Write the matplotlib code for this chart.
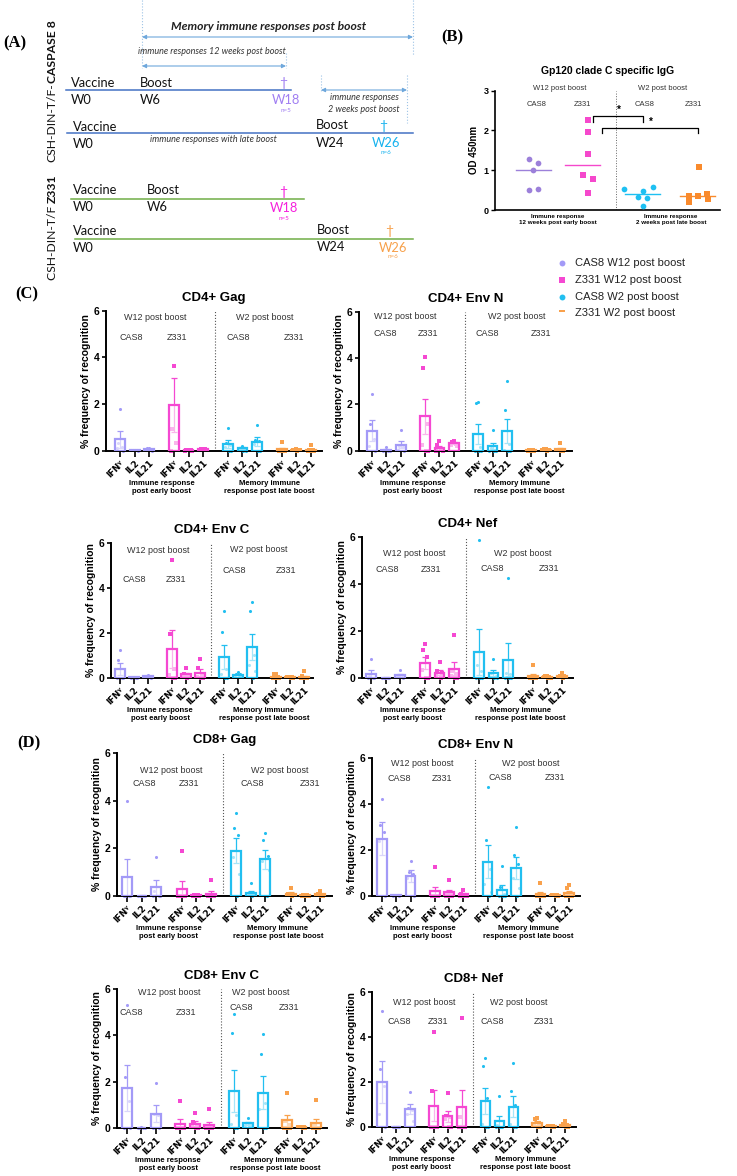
import numpy as np
import matplotlib
matplotlib.use('Agg')
import matplotlib.pyplot as plt

W, H = 737, 1176
plt.rcParams['font.family'] = ['Liberation Sans', 'DejaVu Sans']

# ---------------- data ----------------
cytokines = ['IFN\u1d5e', 'IL2', 'IL21']
group_names = ['CAS8 W12 post boost', 'Z331 W12 post boost', 'CAS8 W2 post boost', 'Z331 W2 post boost']
group_short = ['CAS8', 'Z331', 'CAS8', 'Z331']

# Panel B: Gp120 clade C specific IgG (OD 450nm)
igg_cas8_w12 = [1.28, 1.17, 1.00, 0.50, 0.53]
igg_z331_w12 = [2.26, 1.96, 1.40, 0.88, 0.77, 0.42]
igg_cas8_w2 = [0.53, 0.48, 0.57, 0.32, 0.29, 0.11]
igg_z331_w2 = [1.08, 0.36, 0.35, 0.39, 0.21, 0.27]

# Bar panels: 12 bars = 4 groups x (IFNg, IL2, IL21)
cd4_gag_mean = [0.49, 0.03, 0.07, 1.96, 0.03, 0.06, 0.29, 0.10, 0.39, 0.06, 0.04, 0.05]
cd4_gag_sem = [0.37, 0.01, 0.02, 1.15, 0.01, 0.02, 0.17, 0.04, 0.18, 0.06, 0.01, 0.04]
cd4_gag_pts = [[1.78, 0.35, 0.15, 0.1, 0.0], [0.05, 0.04, 0.02, 0.01, 0.0], [0.12, 0.1, 0.08, 0.04, 0.0],
               [3.61, 0.92, 0.34, 0.0], [0.04, 0.03, 0.02, 0.0, 0.0], [0.08, 0.07, 0.06, 0.05, 0.02],
               [0.98, 0.35, 0.25, 0.15, 0.0, 0.0], [0.21, 0.1, 0.08, 0.05, 0.0, 0.0], [1.09, 0.45, 0.4, 0.3, 0.0, 0.0],
               [0.37, 0.05, 0.0, 0.0, 0.0, 0.0], [0.06, 0.05, 0.04, 0.03, 0.02, 0.0], [0.23, 0.05, 0.02, 0.0, 0.0, 0.0]]

cd4_envn_mean = [0.86, 0.04, 0.26, 1.48, 0.11, 0.32, 0.71, 0.20, 0.85, 0.02, 0.05, 0.08]
cd4_envn_sem = [0.45, 0.03, 0.16, 0.76, 0.08, 0.04, 0.43, 0.14, 0.52, 0.01, 0.01, 0.05]
cd4_envn_pts = [[2.43, 1.14, 0.5, 0.2, 0.0], [0.17, 0.03, 0.0, 0.0, 0.0], [0.88, 0.2, 0.15, 0.05, 0.0],
                [4.04, 3.55, 1.14, 0.24, 0.0, 0.0], [0.42, 0.24, 0.05, 0.0, 0.0], [0.42, 0.38, 0.3, 0.25, 0.2],
                [2.12, 2.05, 0.17, 0.0, 0.0, 0.0], [0.89, 0.1, 0.05, 0.0, 0.0, 0.0], [3.02, 1.74, 0.3, 0.05, 0.0, 0.0],
                [0.02, 0.02, 0.01, 0.0, 0.0, 0.0], [0.08, 0.06, 0.05, 0.04, 0.03, 0.0], [0.33, 0.05, 0.04, 0.03, 0.0, 0.0]]

cd4_envc_mean = [0.40, 0.03, 0.07, 1.29, 0.16, 0.24, 0.93, 0.15, 1.39, 0.06, 0.03, 0.06]
cd4_envc_sem = [0.26, 0.01, 0.02, 0.83, 0.07, 0.14, 0.54, 0.03, 0.58, 0.04, 0.01, 0.05]
cd4_envc_pts = [[1.23, 0.79, 0.0, 0.0, 0.0], [0.04, 0.03, 0.02, 0.02, 0.0], [0.15, 0.1, 0.08, 0.05, 0.0],
                [5.23, 1.97, 0.4, 0.15, 0.0, 0.0], [0.44, 0.2, 0.15, 0.1, 0.05, 0.0], [0.84, 0.45, 0.1, 0.05, 0.0, 0.0],
                [2.99, 2.04, 0.4, 0.2, 0.0, 0.0], [0.25, 0.2, 0.18, 0.12, 0.1, 0.05], [3.39, 2.99, 1.04, 0.6, 0.3, 0.0],
                [0.19, 0.17, 0.05, 0.0, 0.0, 0.0], [0.05, 0.04, 0.03, 0.03, 0.02, 0.0], [0.31, 0.08, 0.0, 0.0, 0.0, 0.0]]

cd4_nef_mean = [0.18, 0.02, 0.11, 0.64, 0.23, 0.40, 1.11, 0.20, 0.77, 0.10, 0.05, 0.08]
cd4_nef_sem = [0.16, 0.005, 0.07, 0.26, 0.10, 0.29, 0.97, 0.13, 0.70, 0.09, 0.015, 0.03]
cd4_nef_pts = [[0.82, 0.1, 0.0, 0.0, 0.0], [0.02, 0.02, 0.01, 0.01, 0.0], [0.35, 0.1, 0.05, 0.03, 0.0],
               [1.45, 1.18, 0.89, 0.35, 0.0, 0.0], [0.67, 0.3, 0.2, 0.1, 0.05, 0.0], [1.83, 0.3, 0.15, 0.1, 0.0, 0.0],
               [5.89, 0.54, 0.31, 0.0, 0.0, 0.0], [0.82, 0.2, 0.1, 0.05, 0.0, 0.0], [4.24, 0.21, 0.15, 0.0, 0.0, 0.0],
               [0.57, 0.05, 0.0, 0.0, 0.0, 0.0], [0.1, 0.07, 0.05, 0.04, 0.02, 0.0], [0.21, 0.1, 0.08, 0.05, 0.03, 0.0]]

cd8_gag_mean = [0.78, 0.02, 0.36, 0.31, 0.03, 0.10, 1.90, 0.14, 1.54, 0.10, 0.03, 0.07]
cd8_gag_sem = [0.79, 0.005, 0.32, 0.31, 0.01, 0.11, 0.53, 0.08, 0.40, 0.05, 0.01, 0.03]
cd8_gag_pts = [[3.97, 0.0, 0.0, 0.0, 0.0], [0.02, 0.02, 0.01, 0.0, 0.0], [1.62, 0.2, 0.0, 0.0, 0.0],
               [1.87, 0.0, 0.0, 0.0, 0.0, 0.0], [0.05, 0.04, 0.03, 0.02, 0.02, 0.0], [0.67, 0.0, 0.0, 0.0, 0.0, 0.0],
               [3.5, 2.87, 2.57, 1.62, 0.92, 0.0], [0.56, 0.1, 0.08, 0.05, 0.03, 0.0], [2.66, 2.36, 1.66, 1.47, 1.1, 0.0],
               [0.34, 0.1, 0.05, 0.05, 0.05, 0.0], [0.04, 0.04, 0.03, 0.02, 0.02, 0.0], [0.2, 0.1, 0.05, 0.05, 0.0, 0.0]]

cd8_envn_mean = [2.50, 0.03, 0.87, 0.20, 0.16, 0.07, 1.50, 0.26, 1.22, 0.10, 0.03, 0.13]
cd8_envn_sem = [0.72, 0.005, 0.27, 0.21, 0.11, 0.05, 0.73, 0.21, 0.46, 0.09, 0.01, 0.09]
cd8_envn_pts = [[4.2, 3.09, 2.8, 2.4, 0.0], [0.04, 0.03, 0.03, 0.02, 0.02], [1.51, 1.05, 0.97, 0.8, 0.0],
                [1.28, 0.0, 0.0, 0.0, 0.0, 0.0], [0.7, 0.15, 0.1, 0.0, 0.0, 0.0], [0.28, 0.1, 0.05, 0.0, 0.0, 0.0],
                [4.73, 2.43, 1.19, 0.54, 0.17, 0.0], [1.3, 0.38, 0.1, 0.0, 0.0, 0.0], [2.98, 1.79, 1.41, 0.8, 0.35, 0.0],
                [0.57, 0.05, 0.0, 0.0, 0.0, 0.0], [0.05, 0.04, 0.03, 0.03, 0.02, 0.0], [0.47, 0.35, 0.0, 0.0, 0.0, 0.0]]

cd8_envc_mean = [1.72, 0.02, 0.62, 0.19, 0.19, 0.14, 1.60, 0.20, 1.52, 0.33, 0.03, 0.22]
cd8_envc_sem = [1.00, 0.005, 0.37, 0.20, 0.10, 0.14, 0.92, 0.05, 0.71, 0.25, 0.01, 0.19]
cd8_envc_pts = [[5.31, 2.21, 1.18, 0.0, 0.0], [0.03, 0.02, 0.02, 0.01, 0.0], [1.96, 0.6, 0.55, 0.0, 0.0],
                [1.18, 0.0, 0.0, 0.0, 0.0, 0.0], [0.66, 0.25, 0.15, 0.1, 0.0, 0.0], [0.84, 0.0, 0.0, 0.0, 0.0, 0.0],
                [4.92, 4.08, 0.55, 0.19, 0.0, 0.0], [0.45, 0.2, 0.18, 0.15, 0.12, 0.1], [4.05, 3.19, 1.1, 0.81, 0.0, 0.0],
                [1.53, 0.3, 0.15, 0.0, 0.0, 0.0], [0.05, 0.04, 0.03, 0.03, 0.02, 0.0], [1.2, 0.1, 0.0, 0.0, 0.0, 0.0]]

cd8_nef_mean = [2.00, 0.02, 0.80, 0.95, 0.47, 0.87, 1.16, 0.25, 0.90, 0.18, 0.03, 0.10]
cd8_nef_sem = [0.92, 0.005, 0.21, 0.69, 0.23, 0.79, 0.58, 0.23, 0.47, 0.07, 0.01, 0.05]
cd8_nef_pts = [[5.14, 2.58, 1.84, 0.59, 0.0], [0.02, 0.02, 0.02, 0.01, 0.01], [1.54, 0.85, 0.75, 0.6, 0.26],
               [4.22, 1.61, 0.0, 0.0, 0.0, 0.0], [1.51, 0.5, 0.45, 0.35, 0.0, 0.0], [4.84, 0.44, 0.0, 0.0, 0.0, 0.0],
               [3.05, 2.7, 1.29, 0.15, 0.0, 0.0], [1.38, 0.1, 0.0, 0.0, 0.0, 0.0], [2.83, 1.6, 0.99, 0.15, 0.0, 0.0],
               [0.4, 0.37, 0.2, 0.1, 0.0, 0.0], [0.05, 0.04, 0.03, 0.03, 0.02, 0.0], [0.28, 0.15, 0.1, 0.05, 0.0, 0.0]]

# ---------------- style ----------------
bar_colors = ['#A39AF7', '#F548D2', '#22BFF0', '#F9A14C']
igg_colors = ['#9C80DA', '#F548CC', '#1EC0F2', '#F98A2C']
markers = ['o', 's', 'o', 's']
FA = ['Lato', 'DejaVu Sans']
SERIF = ['Liberation Serif', 'DejaVu Serif']
TICKF = 'DejaVu Sans'
GS = 3.7          # group stride in bar units
JIT = np.array([0.0, -0.14, 0.14, -0.22, 0.22, 0.07])

fig = plt.figure(figsize=(W / 100, H / 100), dpi=100)
fig.patch.set_facecolor('white')

# overlay in pixel coordinates (for diagram, legend, panel letters)
ov = fig.add_axes([0, 0, 1, 1])
ov.set_xlim(0, W)
ov.set_ylim(H, 0)
ov.axis('off')

def px_axes(x0, yt, x1, yb):
    return fig.add_axes([x0 / W, 1 - yb / H, (x1 - x0) / W, (yb - yt) / H])

# ---------------- panel letters ----------------
for lab, (lx, ly) in zip(['(A)', '(B)', '(C)', '(D)'], [(15, 43), (452, 37), (27, 294), (29, 743)]):
    ov.text(lx, ly, lab, fontsize=12, fontweight='bold', family=SERIF, ha='center', va='center')

# ---------------- panel A: schedule diagram ----------------
arrow_c = '#6FA8DC'
dot_c = '#9DC3E6'
for x, y0, y1 in [(142, 0, 68), (413, 0, 55), (286, 53, 68), (321, 75, 92), (407, 75, 123)]:
    ov.plot([x, x], [y0, y1], ls=':', color=dot_c, lw=0.8)
for y, x0, x1 in [(37, 142, 413), (66, 142, 286), (90, 321, 407)]:
    ov.annotate('', xy=(x1, y), xytext=(x0, y),
                arrowprops=dict(arrowstyle='<|-|>', color=arrow_c, lw=0.8, mutation_scale=6,
                                shrinkA=0, shrinkB=0))
ov.text(269, 26, 'Memory immune responses post boost', fontsize=8.7, fontweight='bold',
        style='italic', family=FA, ha='center', va='center', color='#222222')
ov.text(212, 51, 'immune responses 12 weeks post boost', fontsize=6.5, style='italic',
        family=FA, ha='center', va='center', color='#333333')
ov.text(364, 97, 'immune responses', fontsize=6.5, style='italic', family=FA, ha='center', va='center', color='#333333')
ov.text(364, 109, '2 weeks post boost', fontsize=6.5, style='italic', family=FA, ha='center', va='center', color='#333333')
ov.text(213, 140, 'immune responses with late boost', fontsize=6.5, style='italic', family=FA,
        ha='center', va='center', color='#333333')

rows = [
    dict(ly=90, lx0=66, lx1=291, lc='#4472C4', vx=71, vy=83, wy=100, bx=140, by=83, wk='W6', wky=100,
         end='W18', ec='#A07EF2', dx=283, dy=83, ex=286, ey=100, n='n=5', ny=110),
    dict(ly=133, lx0=67, lx1=413, lc='#4472C4', vx=73, vy=127, wy=144, bx=316, by=125, wk='W24', wky=143,
         end='W26', ec='#16B2EE', dx=383, dy=126, ex=386, ey=143, n='n=6', ny=152),
    dict(ly=199, lx0=71, lx1=304, lc='#70AD47', vx=73, vy=190, wy=207, bx=147, by=190, wk='W6', wky=207,
         end='W18', ec='#F51FDC', dx=283, dy=192, ex=284, ey=208, n='n=5', ny=218),
    dict(ly=239, lx0=75, lx1=413, lc='#70AD47', vx=73, vy=231, wy=248, bx=317, by=230, wk='W24', wky=247,
         end='W26', ec='#F7A04A', dx=389, dy=231, ex=393, ey=248, n='n=6', ny=257),
]
for r in rows:
    ov.plot([r['lx0'], r['lx1']], [r['ly'], r['ly']], color=r['lc'], lw=1.1)
    ov.text(r['vx'], r['vy'], 'Vaccine', fontsize=9.3, family=FA, ha='left', va='center', color='#111111')
    ov.text(r['vx'], r['wy'], 'W0', fontsize=9.3, family=FA, ha='left', va='center', color='#111111')
    ov.text(r['bx'], r['by'], 'Boost', fontsize=9.3, family=FA, ha='left', va='center', color='#111111')
    ov.text(r['bx'], r['wky'], r['wk'], fontsize=9.3, family=FA, ha='left', va='center', color='#111111')
    ov.text(r['dx'], r['dy'], '\u2020', fontsize=10, family=FA, ha='center', va='center', color=r['ec'])
    ov.text(r['ex'], r['ey'], r['end'], fontsize=9.3, family=FA, ha='center', va='center', color=r['ec'])
    ov.text(r['ex'], r['ny'], r['n'], fontsize=4.5, family=FA, ha='center', va='center', color=r['ec'])

renderer = fig.canvas.get_renderer()

def vlabel(parts, xc, yc, size):
    texts = [fig.text(0, 0, s, rotation=90, fontsize=size, fontweight=w, family=FA,
                      ha='center', va='bottom', color='#111111') for s, w in parts]
    lens = [t.get_window_extent(renderer).height for t in texts]
    ybot = H - (yc + sum(lens) / 2.0)
    for t, ln in zip(texts, lens):
        t.set_position((xc / W, ybot / H))
        ybot += ln

vlabel([('CSH-DIN-T/F-', 'normal'), ('CASPASE 8', 'bold')], 52, 91, 8.7)
vlabel([('CSH-DIN-T/F ', 'normal'), ('Z331', 'bold')], 52, 227, 8.7)

# ---------------- panel B ----------------
axb = px_axes(495, 90.7, 720, 210)
b_pos = [0.0, 0.93, 2.07, 3.11]
b_jit = [[-0.08, 0.09, 0.0, -0.08, 0.09],
         [0.1, 0.1, 0.1, 0.01, 0.2, 0.1],
         [-0.35, 0.0, 0.19, -0.08, 0.09, 0.0],
         [0.02, -0.17, 0.0, 0.18, -0.17, 0.19]]
igg_sets = [igg_cas8_w12, igg_z331_w12, igg_cas8_w2, igg_z331_w2]
for g, vals in enumerate(igg_sets):
    xs = b_pos[g] + np.array(b_jit[g][:len(vals)])
    axb.scatter(xs, vals, marker=markers[g], s=17 if markers[g] == 'o' else 15,
                color=igg_colors[g], linewidths=0, zorder=3)
    med = np.median(vals)
    axb.plot([b_pos[g] - 0.33, b_pos[g] + 0.33], [med, med], color=igg_colors[g], lw=1.0, zorder=2)
axb.set_xlim(-0.72, 3.53)
axb.set_ylim(0, 3)
axb.set_yticks([0, 1, 2, 3])
axb.set_yticklabels(['0', '1', '2', '3'], fontsize=6.5, fontweight='bold')
axb.set_xticks([])
for sp in ['top', 'right']:
    axb.spines[sp].set_visible(False)
for sp in ['left', 'bottom']:
    axb.spines[sp].set_linewidth(1.2)
axb.tick_params(axis='y', length=3, width=1.0, pad=1.5)
axb.set_ylabel('OD 450nm', fontsize=7, fontweight='bold', labelpad=3)
axb.axvline(1.57, color='#666666', ls=':', lw=0.7)
axb.set_title('Gp120 clade C specific IgG', fontsize=7.5, fontweight='bold', pad=12)
axb.text(0.5, 3.06, 'W12 post boost', fontsize=5.5, ha='center', va='center', color='#333333')
axb.text(2.45, 3.06, 'W2 post boost', fontsize=5.5, ha='center', va='center', color='#333333')
for g, xx in enumerate([0.07, 0.93, 2.1, 3.02]):
    axb.text(xx, 2.65, group_short[g], fontsize=5.5, ha='center', va='center', color='#333333')
axb.plot([1.13, 1.13, 2.07, 2.07], [2.22, 2.37, 2.37, 2.22], color='black', lw=0.9)
axb.text(1.62, 2.52, '*', fontsize=7, fontweight='bold', ha='center', va='center')
axb.plot([1.30, 1.30, 3.12, 3.12], [1.93, 2.06, 2.06, 1.93], color='black', lw=0.9)
axb.text(2.23, 2.22, '*', fontsize=7, fontweight='bold', ha='center', va='center')
axb.annotate('Immune response\n12 weeks post early boost', xy=(0.47, 0), xycoords=('data', 'axes fraction'),
             xytext=(0, -3), textcoords='offset points', ha='center', va='top', fontsize=4.5,
             fontweight='bold', linespacing=1.15)
axb.annotate('Immune response\n2 weeks post late boost', xy=(2.6, 0), xycoords=('data', 'axes fraction'),
             xytext=(0, -3), textcoords='offset points', ha='center', va='top', fontsize=4.5,
             fontweight='bold', linespacing=1.15)

# ---------------- legend ----------------
for g, yy in enumerate([263, 280, 297, 313]):
    ov.scatter([562], [yy], marker=markers[g], s=18 if markers[g] == 'o' else 16,
               color=bar_colors[g], linewidths=0)
    ov.text(575, yy, group_names[g], fontsize=8, ha='left', va='center', color='#222222')

# ---------------- bar panels ----------------
def bar_panel(rect, a, b, title, means, sems, pts, txt):
    x0, yt, x1, yb = rect
    ax = px_axes(x0, yt, x1, yb)
    xs = [g * GS + j for g in range(4) for j in range(3)]
    last = xs[-1]
    s = (x1 - x0 - a - b) / last
    for i, x in enumerate(xs):
        g = i // 3
        c = bar_colors[g]
        ax.errorbar(x, means[i], yerr=sems[i], color=c, lw=0.9, capsize=2.2, capthick=0.9, zorder=2)
        vals = np.array(pts[i])
        ax.scatter(x + JIT[:len(vals)], vals, s=5, marker=markers[g], color=c, linewidths=0,
                   zorder=2.5, clip_on=False)
        ax.bar(x, means[i], width=0.68, facecolor=(1, 1, 1, 0.6), edgecolor=c, linewidth=1.6, zorder=3)
    ax.set_xlim(-a / s, last + b / s)
    ax.set_ylim(0, 6)
    ax.axvline(6.5, color='#555555', ls=':', lw=0.8, zorder=1)
    ax.set_xticks(xs)
    ax.set_xticklabels(cytokines * 4, rotation=45, ha='right', rotation_mode='anchor',
                       fontsize=6.3, fontweight='bold', family=TICKF)
    ax.set_yticks([0, 2, 4, 6])
    ax.set_yticklabels(['0', '2', '4', '6'], fontsize=7.5, fontweight='bold')
    ax.tick_params(axis='x', length=4, width=1.2, pad=1.5)
    ax.tick_params(axis='y', length=3, width=1.2, pad=1.5)
    for sp in ['top', 'right']:
        ax.spines[sp].set_visible(False)
    for sp in ['left', 'bottom']:
        ax.spines[sp].set_linewidth(1.4)
    ax.set_ylabel('% frequency of recognition', fontsize=7.5, fontweight='bold', labelpad=2)
    ax.set_title(title, fontsize=9.5, fontweight='bold', pad=7)
    w12x, w12y, c1x, z1x, l1y, w2x, w2y, c2x, z2x, l2y = txt
    ax.text(w12x, w12y, 'W12 post boost', fontsize=6.5, ha='center', va='center', color='#333333')
    ax.text(c1x, l1y, 'CAS8', fontsize=6.5, ha='center', va='center', color='#333333')
    ax.text(z1x, l1y, 'Z331', fontsize=6.5, ha='center', va='center', color='#333333')
    ax.text(w2x, w2y, 'W2 post boost', fontsize=6.5, ha='center', va='center', color='#333333')
    ax.text(c2x, l2y, 'CAS8', fontsize=6.5, ha='center', va='center', color='#333333')
    ax.text(z2x, l2y, 'Z331', fontsize=6.5, ha='center', va='center', color='#333333')
    ax.annotate('Immune response\npost early boost', xy=((xs[1] + xs[4]) / 2, 0),
                xycoords=('data', 'axes fraction'), xytext=(0, -21), textcoords='offset points',
                ha='center', va='top', fontsize=5.5, fontweight='bold', linespacing=1.2)
    ax.annotate('Memory immune\nresponse post late boost', xy=((xs[7] + xs[10]) / 2, 0),
                xycoords=('data', 'axes fraction'), xytext=(0, -21), textcoords='offset points',
                ha='center', va='top', fontsize=5.5, fontweight='bold', linespacing=1.2)
    return ax

bar_panel((106, 310.7, 322, 450.7), 14, 11, 'CD4+ Gag', cd4_gag_mean, cd4_gag_sem, cd4_gag_pts,
          (2.4, 5.73, 0.8, 3.9, 4.83, 9.9, 5.73, 8.1, 11.9, 4.83))
bar_panel((359, 311.7, 572, 450.7), 13, 12, 'CD4+ Env N', cd4_envn_mean, cd4_envn_sem, cd4_envn_pts,
          (2.3, 5.8, 0.9, 3.9, 5.08, 10.1, 5.8, 8.0, 11.8, 5.08))
bar_panel((111, 543, 313, 678), 9, 9, 'CD4+ Env C', cd4_envc_mean, cd4_envc_sem, cd4_envc_pts,
          (2.7, 5.66, 1.0, 4.0, 4.4, 9.9, 5.73, 8.1, 11.8, 4.76))
bar_panel((362, 537, 573, 678), 9, 11, 'CD4+ Nef', cd4_nef_mean, cd4_nef_sem, cd4_nef_pts,
          (3.0, 5.28, 1.1, 4.1, 4.6, 10.4, 5.3, 8.3, 12.2, 4.68))
bar_panel((117, 753, 332, 896), 10, 12, 'CD8+ Gag', cd8_gag_mean, cd8_gag_sem, cd8_gag_pts,
          (3.0, 5.26, 1.2, 4.2, 4.7, 10.4, 5.26, 8.5, 12.4, 4.7))
bar_panel((372, 758, 580, 896), 10, 11, 'CD8+ Env N', cd8_envn_mean, cd8_envn_sem, cd8_envn_pts,
          (2.8, 5.74, 1.2, 4.2, 5.1, 10.4, 5.74, 8.3, 12.1, 5.15))
bar_panel((117, 989, 327, 1128), 10, 11, 'CD8+ Env C', cd8_envc_mean, cd8_envc_sem, cd8_envc_pts,
          (2.9, 5.84, 0.3, 4.1, 5.0, 9.3, 5.84, 7.9, 11.2, 5.2))
bar_panel((372, 992, 576, 1127), 10, 11, 'CD8+ Nef', cd8_nef_mean, cd8_nef_sem, cd8_nef_pts,
          (3.0, 5.55, 1.2, 4.0, 4.7, 9.8, 5.55, 7.9, 11.6, 4.7))

fig.savefig('out.png', dpi=100, facecolor='white')
